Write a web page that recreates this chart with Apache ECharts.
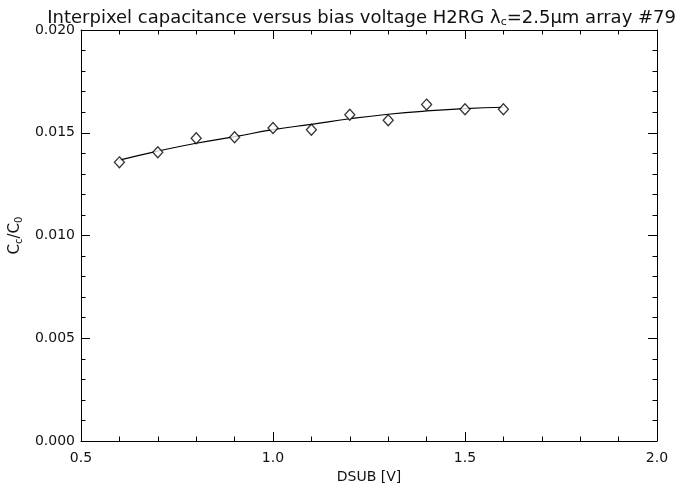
<!DOCTYPE html>
<html>
<head>
<meta charset="utf-8">
<script src="https://cdn.jsdelivr.net/npm/echarts@6/dist/echarts.min.js"></script>
<style>html,body{margin:0;padding:0;background:#fff}#c{width:681px;height:489px}</style>
</head>
<body>
<div id="c"></div>
<script>
// Data
const dsub = [0.6, 0.7, 0.8, 0.9, 1.0, 1.1, 1.2, 1.3, 1.4, 1.5, 1.6];
const ratio = [0.01356, 0.01405, 0.01473, 0.01478, 0.01523, 0.01515, 0.01588, 0.01561, 0.01637, 0.01614, 0.01614];
const fit = [0.01367, 0.01411, 0.01449, 0.01481, 0.01515, 0.01541, 0.01568, 0.01590, 0.01606, 0.01617, 0.01624];

const FONT = 'DejaVu Sans';
const chart = echarts.init(document.getElementById('c'));
const tickCommon = {show: true, inside: true, length: 9, lineStyle: {color: '#000', width: 1}};
const minorCommon = {show: true, splitNumber: 5, length: 4.5, lineStyle: {color: '#000', width: 1}};
chart.setOption({
  animation: false,
  backgroundColor: '#fff',
  title: {
    text: 'Interpixel capacitance versus bias voltage H2RG λ{s|c}=2.5μm array #79',
    left: 'right', right: 5, top: 3,
    textStyle: {
      fontFamily: FONT, fontSize: 18, fontWeight: 'normal', color: '#111',
      rich: {s: {fontFamily: FONT, fontSize: 11, verticalAlign: 'bottom', padding: [9, 0, 0, 0], color: '#111'}}
    }
  },
  grid: {left: 81, right: 24, top: 30, bottom: 48, containLabel: false, outerBoundsMode: 'none'},
  xAxis: [{
    type: 'value', min: 0.5, max: 2.0, interval: 0.5,
    name: 'DSUB [V]', nameLocation: 'middle', nameGap: 27,
    nameTextStyle: {fontFamily: FONT, fontSize: 14, color: '#111'},
    axisLine: {show: true, onZero: false, lineStyle: {color: '#000', width: 1}},
    axisTick: tickCommon, minorTick: minorCommon,
    axisLabel: {fontFamily: FONT, fontSize: 14, color: '#111', margin: 10, formatter: v => v.toFixed(1)},
    splitLine: {show: false}
  }, {
    type: 'value', min: 0.5, max: 2.0, interval: 0.5, position: 'top',
    axisLine: {show: true, onZero: false, lineStyle: {color: '#000', width: 1}},
    axisTick: tickCommon, minorTick: minorCommon,
    axisLabel: {show: false}, splitLine: {show: false}
  }],
  yAxis: [{
    type: 'value', min: 0, max: 0.02, interval: 0.005,
    name: 'C{s|c}/C{s|0}', nameLocation: 'middle', nameGap: 48, nameRotate: 90,
    nameTextStyle: {fontFamily: FONT, fontSize: 15, color: '#111',
      rich: {s: {fontFamily: FONT, fontSize: 10, verticalAlign: 'bottom', padding: [8, 0, 0, 0], color: '#111'}}},
    axisLine: {show: true, onZero: false, lineStyle: {color: '#000', width: 1}},
    axisTick: tickCommon, minorTick: minorCommon,
    axisLabel: {fontFamily: FONT, fontSize: 14, color: '#111', margin: 6, formatter: v => v.toFixed(3)},
    splitLine: {show: false}
  }, {
    type: 'value', min: 0, max: 0.02, interval: 0.005, position: 'right',
    axisLine: {show: true, onZero: false, lineStyle: {color: '#000', width: 1}},
    axisTick: tickCommon, minorTick: minorCommon,
    axisLabel: {show: false}, splitLine: {show: false}
  }],
  series: [{
    type: 'line', xAxisIndex: 0, yAxisIndex: 0,
    data: dsub.map((x, i) => [x, fit[i]]),
    smooth: true, showSymbol: false, symbol: 'none',
    lineStyle: {color: '#000', width: 1.2}, z: 2
  }, {
    type: 'scatter', xAxisIndex: 0, yAxisIndex: 0,
    data: dsub.map((x, i) => [x, ratio[i]]),
    symbol: 'diamond', symbolSize: [10, 11],
    itemStyle: {color: '#fff', borderColor: '#000', borderWidth: 1.3}, z: 3
  }]
});
</script>
</body>
</html>
